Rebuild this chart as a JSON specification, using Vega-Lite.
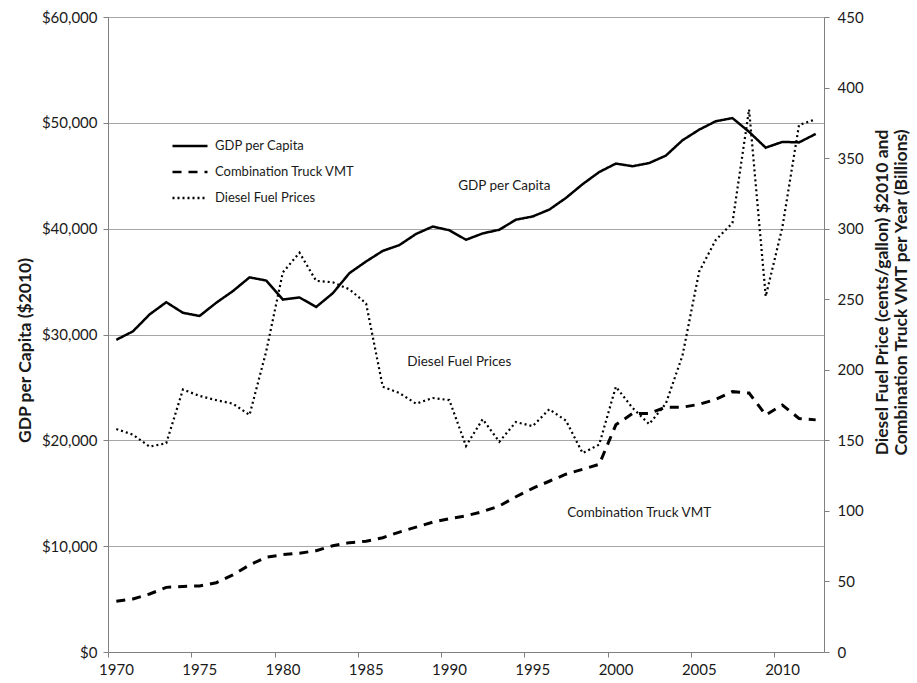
{
  "$schema": "https://vega.github.io/schema/vega-lite/v6.json",
  "width": 716,
  "height": 635,
  "autosize": {"type": "none"},
  "padding": {"left": 108, "top": 17, "right": 93, "bottom": 31},
  "background": "white",
  "config": {
    "font": "Lato",
    "view": {"stroke": null},
    "axis": {"labelFont": "Lato", "titleFont": "Lato", "labelColor": "#1a1a1a", "titleColor": "#1a1a1a", "domainColor": "#808080", "tickColor": "#808080", "tickSize": 5, "labelFontSize": 15, "titleFontSize": 17.5, "titleFontWeight": "bold"}
  },
  "datasets": {
    "main": [
      {"year": 1970, "gdp": 29500, "vmt": 35.9, "diesel": 158},
      {"year": 1971, "gdp": 30300, "vmt": 37.6, "diesel": 154},
      {"year": 1972, "gdp": 31900, "vmt": 41.1, "diesel": 145.5},
      {"year": 1973, "gdp": 33050, "vmt": 45.8, "diesel": 148},
      {"year": 1974, "gdp": 32050, "vmt": 46.5, "diesel": 186},
      {"year": 1975, "gdp": 31750, "vmt": 46.8, "diesel": 181.5},
      {"year": 1976, "gdp": 33000, "vmt": 49.1, "diesel": 178.5},
      {"year": 1977, "gdp": 34100, "vmt": 54.6, "diesel": 176},
      {"year": 1978, "gdp": 35400, "vmt": 61.7, "diesel": 168},
      {"year": 1979, "gdp": 35100, "vmt": 67.1, "diesel": 213},
      {"year": 1980, "gdp": 33300, "vmt": 69, "diesel": 269},
      {"year": 1981, "gdp": 33500, "vmt": 70, "diesel": 283},
      {"year": 1982, "gdp": 32600, "vmt": 71.8, "diesel": 263},
      {"year": 1983, "gdp": 33900, "vmt": 75.3, "diesel": 262},
      {"year": 1984, "gdp": 35800, "vmt": 77.5, "diesel": 257},
      {"year": 1985, "gdp": 36900, "vmt": 78.5, "diesel": 247},
      {"year": 1986, "gdp": 37900, "vmt": 81, "diesel": 188},
      {"year": 1987, "gdp": 38450, "vmt": 85, "diesel": 183.5},
      {"year": 1988, "gdp": 39500, "vmt": 88.5, "diesel": 176},
      {"year": 1989, "gdp": 40200, "vmt": 92, "diesel": 180},
      {"year": 1990, "gdp": 39850, "vmt": 94.5, "diesel": 178.5},
      {"year": 1991, "gdp": 38950, "vmt": 96.5, "diesel": 146},
      {"year": 1992, "gdp": 39550, "vmt": 99.5, "diesel": 165},
      {"year": 1993, "gdp": 39900, "vmt": 103.5, "diesel": 149},
      {"year": 1994, "gdp": 40850, "vmt": 110, "diesel": 163},
      {"year": 1995, "gdp": 41150, "vmt": 116, "diesel": 160},
      {"year": 1996, "gdp": 41800, "vmt": 121, "diesel": 172},
      {"year": 1997, "gdp": 42900, "vmt": 126, "diesel": 164},
      {"year": 1998, "gdp": 44200, "vmt": 129.5, "diesel": 141},
      {"year": 1999, "gdp": 45350, "vmt": 133, "diesel": 147},
      {"year": 2000, "gdp": 46150, "vmt": 161, "diesel": 188},
      {"year": 2001, "gdp": 45900, "vmt": 169, "diesel": 173},
      {"year": 2002, "gdp": 46200, "vmt": 169, "diesel": 161.5},
      {"year": 2003, "gdp": 46900, "vmt": 173.5, "diesel": 176},
      {"year": 2004, "gdp": 48350, "vmt": 173.5, "diesel": 210},
      {"year": 2005, "gdp": 49350, "vmt": 175.5, "diesel": 269.5},
      {"year": 2006, "gdp": 50150, "vmt": 179, "diesel": 292},
      {"year": 2007, "gdp": 50450, "vmt": 184.5, "diesel": 304},
      {"year": 2008, "gdp": 49150, "vmt": 183.5, "diesel": 384.5},
      {"year": 2009, "gdp": 47650, "vmt": 168, "diesel": 252},
      {"year": 2010, "gdp": 48200, "vmt": 175, "diesel": 301},
      {"year": 2011, "gdp": 48150, "vmt": 165.5, "diesel": 373.5},
      {"year": 2012, "gdp": 48950, "vmt": 164.5, "diesel": 377.5}
    ],
    "notes": [
      {"year": 1993.3, "gdp": 44030, "label": "GDP per Capita"},
      {"year": 1990.6, "gdp": 27400, "label": "Diesel Fuel Prices"},
      {"year": 2001.4, "gdp": 13100, "label": "Combination Truck VMT"}
    ]
  },
  "layer": [
    {
      "layer": [
        {
          "data": {"name": "main"},
          "mark": {"type": "line", "color": "black", "strokeWidth": 2.5},
          "encoding": {
            "x": {"field": "year", "type": "quantitative", "scale": {"domain": [1969.5, 2012.5], "nice": false, "zero": false},
              "axis": {"title": null, "values": [1969.5, 1974.5, 1979.5, 1984.5, 1989.5, 1994.5, 1999.5, 2004.5, 2009.5], "labelExpr": "format(datum.value + 0.5, 'd')", "labelOffset": 8, "labelFlush": false, "labelOverlap": false, "grid": false, "labelPadding": 5}},
            "y": {"field": "gdp", "type": "quantitative", "scale": {"domain": [0, 60000], "nice": false},
              "axis": {"title": "GDP per Capita ($2010)", "titleY": 333, "values": [0, 10000, 20000, 30000, 40000, 50000, 60000], "format": "$,d", "grid": true, "gridColor": "#a6a6a6", "gridWidth": 1.2, "labelPadding": 6, "titlePadding": 7}},
            "strokeDash": {"datum": "GDP per Capita", "type": "nominal",
              "scale": {"domain": ["GDP per Capita", "Combination Truck VMT", "Diesel Fuel Prices"], "range": [[1, 0], [9, 7], [2, 3]]},
              "legend": {"orient": "none", "legendX": 63, "legendY": 110, "title": null, "symbolType": "stroke", "symbolSize": 1225, "symbolStrokeWidth": 2.5, "symbolStrokeColor": "black", "labelFontSize": 13, "labelFont": "Lato", "labelColor": "#1a1a1a", "rowPadding": -10, "labelOffset": 6, "padding": 0}}
          }
        },
        {
          "data": {"name": "notes"},
          "mark": {"type": "text", "fontSize": 13.5, "font": "Lato", "color": "#1a1a1a", "baseline": "middle", "align": "center"},
          "encoding": {
            "x": {"field": "year", "type": "quantitative"},
            "y": {"field": "gdp", "type": "quantitative"},
            "text": {"field": "label"}
          }
        }
      ]
    },
    {
      "data": {"name": "main"},
      "layer": [
        {
          "mark": {"type": "line", "color": "black", "strokeWidth": 3},
          "encoding": {
            "x": {"field": "year", "type": "quantitative"},
            "y": {"field": "vmt", "type": "quantitative", "scale": {"domain": [0, 450], "nice": false},
              "axis": {"orient": "right", "title": ["Diesel Fuel Price (cents/gallon) $2010 and", "Combination Truck VMT per Year (Billions)"], "titleAngle": 270, "titleY": 275, "titleLineHeight": 19, "values": [0, 50, 100, 150, 200, 250, 300, 350, 400, 450], "grid": false, "labelPadding": 8, "titlePadding": 9}},
            "strokeDash": {"datum": "Combination Truck VMT", "type": "nominal"}
          }
        },
        {
          "mark": {"type": "line", "color": "black", "strokeWidth": 2.2},
          "encoding": {
            "x": {"field": "year", "type": "quantitative"},
            "y": {"field": "diesel", "type": "quantitative"},
            "strokeDash": {"datum": "Diesel Fuel Prices", "type": "nominal"}
          }
        }
      ]
    }
  ],
  "resolve": {"scale": {"y": "independent"}, "axis": {"y": "independent"}}
}
